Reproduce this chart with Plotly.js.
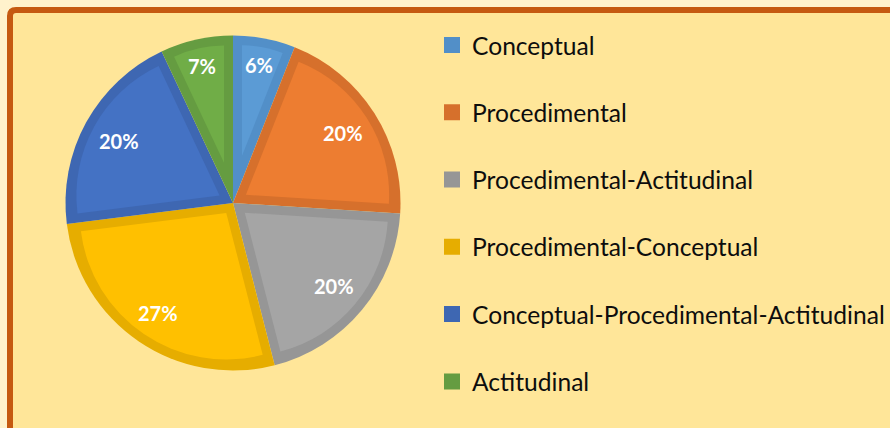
<!DOCTYPE html>
<html><head><meta charset="utf-8">
<script src="https://cdn.plot.ly/plotly-3.0.1.min.js"></script>
<style>html,body{margin:0;padding:0;background:#FFF2CC;} #chart{width:890px;height:428px;}</style>
</head><body><div id="chart"></div>
<script>
const categories = ['Conceptual','Procedimental','Procedimental-Actitudinal','Procedimental-Conceptual','Conceptual-Procedimental-Actitudinal','Actitudinal'];
const shares = [6, 20, 20, 27, 20, 7];
const fillColors = ['#5B9BD5','#ED7D31','#A5A5A5','#FFC000','#4472C4','#70AD47'];
const edgeColors = ['#528FC8','#D6702C','#969696','#E6AD00','#3E67B2','#659C41'];

const W = 890, H = 428, CX = 233, CY = 203, R = 167.5, BAND = 9;
const px = x => x / W, py = y => 1 - y / H;
const total = shares.reduce((a, b) => a + b, 0);

const traces = [];
traces.push({
  type: 'pie', labels: categories, values: shares, sort: false, direction: 'clockwise', rotation: 0,
  marker: {colors: edgeColors, line: {width: 0}}, textinfo: 'none', hoverinfo: 'label+percent', showlegend: false,
  domain: {x: [px(CX - R), px(CX + R)], y: [py(CY + R), py(CY - R)]}
});
shares.forEach((v, k) => {
  const half = Math.PI * v / total;
  const d = BAND / Math.sin(half);
  const rIn = R - BAND - d;
  const pull = d / rIn;
  const hs = R - BAND;
  traces.push({
    type: 'pie', labels: categories, values: shares, sort: false, direction: 'clockwise', rotation: 0,
    marker: {colors: shares.map((_, j) => j === k ? fillColors[k] : 'rgba(0,0,0,0)'), line: {width: 0}},
    pull: shares.map((_, j) => j === k ? pull : 0),
    textinfo: 'none', hoverinfo: 'skip', showlegend: false,
    domain: {x: [px(CX - hs), px(CX + hs)], y: [py(CY + hs), py(CY - hs)]}
  });
});
categories.forEach((name, k) => {
  traces.push({type: 'scatter', mode: 'markers', x: [null], y: [null], name: name, legendgroup: 'g' + k,
    marker: {symbol: 'square', size: 16, color: edgeColors[k]}, hoverinfo: 'skip', showlegend: true});
});

let cum = 0;
const annotations = shares.map((v, k) => {
  const mid = 2 * Math.PI * (cum + v / 2) / total; cum += v;
  const s = Math.sin(mid), c = Math.cos(mid);
  const txt = Math.round(v / total * 100) + '%';
  const halfW = (txt.length * 11.5 + 5.5) / 2;
  const rr = 151 - (halfW * Math.abs(s) + 8 * Math.abs(c));
  return {xref: 'paper', yref: 'paper', x: px(CX + rr * s), y: py(CY - rr * c), text: '<b>' + txt + '</b>',
    showarrow: false, xanchor: 'center', yanchor: 'middle', font: {family: 'Lato', size: 20, color: '#FFFFFF'}};
});

const borderPath = `M${px(10)},${py(445)} L${px(10)},${py(16)} Q${px(10)},${py(10)} ${px(16)},${py(10)} L${px(905)},${py(10)} L${px(905)},${py(445)} Z`;

const layout = {
  width: W, height: H, margin: {l: 0, r: 0, t: 0, b: 0, autoexpand: false},
  paper_bgcolor: '#FFF2CC', plot_bgcolor: 'rgba(0,0,0,0)',
  xaxis: {visible: false}, yaxis: {visible: false},
  showlegend: true,
  legend: {x: px(432), y: py(22.5), xanchor: 'left', yanchor: 'top', bgcolor: 'rgba(0,0,0,0)',
    font: {family: 'Lato', size: 24.6, color: '#0D0D0D'}, tracegroupgap: 32.3},
  shapes: [{type: 'path', xref: 'paper', yref: 'paper', layer: 'below', path: borderPath,
    fillcolor: '#FFE699', line: {color: '#C55A11', width: 6}}],
  annotations: annotations
};
Plotly.newPlot('chart', traces, layout, {displayModeBar: false, staticPlot: true});
</script></body></html>
